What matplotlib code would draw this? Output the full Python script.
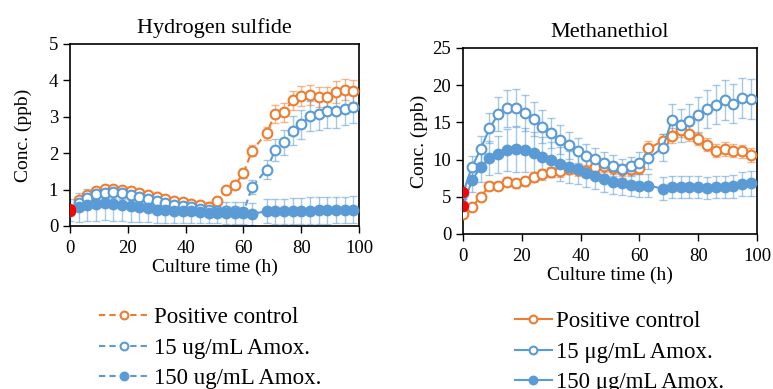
import matplotlib
matplotlib.use("Agg")
import matplotlib.pyplot as plt
import numpy as np

plt.rcParams['font.family'] = ['Liberation Serif', 'DejaVu Serif']

ORANGE = '#ED7D31'
BLUE = '#5B9BD5'

t = [0, 3, 6, 9, 12, 15, 18, 21, 24, 27, 30, 33, 36, 39, 42, 45, 48, 51, 54, 57, 60,
     63, 68, 71, 74, 77, 80, 83, 86, 89, 92, 95, 98]

# Hydrogen sulfide
h2s_pos = [0.45, 0.72, 0.85, 0.97, 1.02, 1.03, 1.0, 0.95, 0.9, 0.85, 0.8, 0.75, 0.68, 0.65,
           0.6, 0.57, 0.52, 0.7, 1.0, 1.12, 1.45, 2.07, 2.55, 3.08, 3.12, 3.45, 3.57, 3.6,
           3.55, 3.55, 3.67, 3.75, 3.72]
h2s_pos_err = [0.05, 0.06, 0.06, 0.07, 0.07, 0.07, 0.07, 0.06, 0.06, 0.06, 0.06, 0.05, 0.05,
               0.05, 0.05, 0.05, 0.05, 0.06, 0.08, 0.1, 0.12, 0.15, 0.18, 0.25, 0.25, 0.25,
               0.28, 0.28, 0.28, 0.28, 0.3, 0.3, 0.3]
h2s_15 = [0.42, 0.62, 0.78, 0.88, 0.92, 0.93, 0.9, 0.85, 0.8, 0.75, 0.68, 0.63, 0.58, 0.55,
          0.52, 0.48, 0.45, 0.42, 0.42, 0.4, 0.38, 1.07, 1.55, 2.08, 2.3, 2.62, 2.8, 3.02,
          3.07, 3.15, 3.15, 3.22, 3.28]
h2s_15_err = [0.1, 0.15, 0.15, 0.15, 0.15, 0.15, 0.15, 0.14, 0.14, 0.13, 0.13, 0.12, 0.12,
              0.12, 0.12, 0.12, 0.12, 0.12, 0.12, 0.12, 0.12, 0.2, 0.25, 0.3, 0.35, 0.4,
              0.4, 0.42, 0.42, 0.45, 0.45, 0.45, 0.45]
h2s_150 = [0.45, 0.52, 0.58, 0.6, 0.62, 0.6, 0.58, 0.55, 0.52, 0.5, 0.45, 0.43, 0.42, 0.4,
           0.4, 0.38, 0.37, 0.37, 0.36, 0.36, 0.35, 0.34, 0.4, 0.4, 0.4, 0.42, 0.42, 0.42,
           0.43, 0.43, 0.44, 0.44, 0.45]
h2s_150_err = [0.3, 0.4, 0.45, 0.45, 0.45, 0.45, 0.45, 0.45, 0.42, 0.4, 0.38, 0.36, 0.34,
               0.33, 0.32, 0.3, 0.3, 0.3, 0.3, 0.3, 0.3, 0.3, 0.33, 0.35, 0.35, 0.36, 0.36,
               0.37, 0.37, 0.37, 0.37, 0.37, 0.37]

# Methanethiol
mt_pos = [2.7, 3.6, 5.0, 6.5, 6.5, 7.0, 6.8, 7.1, 7.7, 8.0, 8.3, 8.5, 8.8, 8.6, 8.5, 9.0,
          9.1, 8.9, 8.6, 8.7, 8.9, 11.5, 12.5, 13.2, 14.0, 13.5, 12.8, 12.0, 11.2, 11.4,
          11.2, 11.1, 10.6]
mt_pos_err = [0.3, 0.4, 0.5, 0.5, 0.5, 0.6, 0.6, 0.6, 0.7, 0.7, 0.7, 0.8, 0.8, 0.8, 0.8,
              0.8, 0.8, 0.8, 0.8, 0.8, 0.8, 1.0, 1.0, 1.0, 1.0, 1.0, 0.9, 0.9, 0.9, 0.9,
              0.9, 0.9, 0.9]
mt_15 = [5.5, 9.0, 11.4, 14.2, 16.1, 16.9, 17.0, 16.3, 15.5, 14.4, 13.6, 12.7, 11.9, 11.2,
         10.5, 10.1, 9.5, 9.2, 8.8, 9.1, 9.6, 10.2, 11.6, 15.3, 14.6, 15.2, 16.0, 16.8,
         17.4, 18.0, 17.5, 18.3, 18.2]
mt_15_err = [1.0, 1.5, 1.8, 2.0, 2.3, 2.5, 2.5, 2.4, 2.3, 2.2, 2.0, 1.9, 1.8, 1.7, 1.6,
             1.5, 1.5, 1.4, 1.3, 1.3, 1.4, 1.5, 1.8, 2.2, 2.2, 2.3, 2.4, 2.5, 2.6, 2.7,
             2.6, 2.7, 2.7]
mt_150 = [3.7, 7.2, 9.0, 10.2, 10.7, 11.3, 11.4, 11.3, 10.9, 10.4, 10.0, 9.4, 9.0, 8.7,
          8.2, 7.8, 7.4, 7.0, 6.8, 6.6, 6.5, 6.5, 6.1, 6.3, 6.3, 6.3, 6.3, 6.2, 6.3, 6.3,
          6.4, 6.7, 6.8]
mt_150_err = [1.0, 1.5, 2.0, 2.3, 2.5, 2.8, 3.0, 3.0, 2.8, 2.6, 2.4, 2.3, 2.2, 2.0, 1.9,
              1.8, 1.7, 1.6, 1.5, 1.5, 1.5, 1.5, 1.5, 1.5, 1.5, 1.5, 1.5, 1.5, 1.5, 1.5,
              1.5, 1.6, 1.7]

red_h2s = [0.42, 0.47]
red_mt = [5.6, 3.7]

labels_left = ['Positive control', '15 ug/mL Amox.', '150 ug/mL Amox.']
labels_right = ['Positive control', '15 \u03bcg/mL Amox.', '150 \u03bcg/mL Amox.']

fig = plt.figure(figsize=(7.73, 3.89), dpi=100)
ax1 = fig.add_axes([70 / 773, 1 - 226 / 389, 289 / 773, 182 / 389])
ax2 = fig.add_axes([463 / 773, 1 - 234 / 389, 294 / 773, 186 / 389])


def draw(ax, series, ls, red, ymax, step, title, ypad):
    handles = []
    for y, err, color, filled, lab in series:
        ax.errorbar(t, y, yerr=err, fmt='none', ecolor=color, alpha=0.55,
                    elinewidth=1, capsize=3, capthick=1, zorder=1)
        h, = ax.plot(t, y, linestyle=ls, color=color, lw=1.5, marker='o', markersize=7,
                     markerfacecolor=color if filled else 'white',
                     markeredgecolor=color, markeredgewidth=1.5, label=lab, zorder=3)
        handles.append(h)
    ax.plot([0] * len(red), red, 'o', color='red', markersize=7, zorder=4)
    ax.set_xlim(0, 100)
    ax.set_ylim(0, ymax)
    ax.set_xticks(range(0, 101, 20))
    ax.set_yticks(np.arange(0, ymax + 0.1, step))
    ax.tick_params(labelsize=13.5, direction='out', length=5, width=1)
    ax.tick_params(axis='x', pad=5)
    for s in ax.spines.values():
        s.set_linewidth(1.2)
    ax.set_xlabel('Culture time (h)', fontsize=14, labelpad=1)
    ax.set_ylabel('Conc. (ppb)', fontsize=14, labelpad=ypad)
    ax.set_title(title, fontsize=16, pad=8)
    return handles


h1 = draw(ax1, [(h2s_pos, h2s_pos_err, ORANGE, False, labels_left[0]),
                (h2s_15, h2s_15_err, BLUE, False, labels_left[1]),
                (h2s_150, h2s_150_err, BLUE, True, labels_left[2])],
          (0, (3, 2)), red_h2s, 5, 1, 'Hydrogen sulfide', 12)
h2 = draw(ax2, [(mt_pos, mt_pos_err, ORANGE, False, labels_right[0]),
                (mt_15, mt_15_err, BLUE, False, labels_right[1]),
                (mt_150, mt_150_err, BLUE, True, labels_right[2])],
          '-', red_mt, 25, 5, 'Methanethiol', 3)

fig.legend(handles=h1, labels=labels_left, loc='upper left',
           bbox_to_anchor=(92 / 773, 1 - 300 / 389), frameon=False, fontsize=16.5,
           handlelength=2.2, labelspacing=0.42, handletextpad=0.2, markerscale=0.8,
           borderaxespad=0, borderpad=0.3)
fig.legend(handles=h2, labels=labels_right, loc='upper left',
           bbox_to_anchor=(508 / 773, 1 - 304 / 389), frameon=False, fontsize=16.5,
           handlelength=1.6, labelspacing=0.42, handletextpad=0.2, markerscale=0.8,
           borderaxespad=0, borderpad=0.3)

fig.savefig('out.png', dpi=100)
